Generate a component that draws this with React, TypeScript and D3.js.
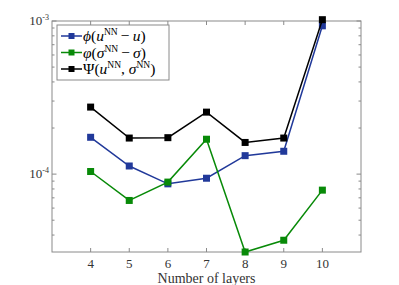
import * as d3 from "d3";

const layers = [4, 5, 6, 7, 8, 9, 10];
const phiErr = [1.74e-4, 1.13e-4, 8.64e-5, 9.4e-5, 1.32e-4, 1.41e-4, 9.3e-4];
const varphiErr = [1.04e-4, 6.73e-5, 8.87e-5, 1.69e-4, 3.1e-5, 3.7e-5, 7.86e-5];
const psiErr = [2.74e-4, 1.72e-4, 1.73e-4, 2.54e-4, 1.61e-4, 1.72e-4, 1.02e-3];

const xTicks = [4, 5, 6, 7, 8, 9, 10];

const series = [
  { key: "phi", values: phiErr, color: "#21399a" },
  { key: "varphi", values: varphiErr, color: "#088a08" },
  { key: "psi", values: psiErr, color: "#000000" },
];

const width = 399;
const height = 285;
const m = { left: 52, right: 38, top: 21, bottom: 33 };
const axisColor = "#8a8a8a";
const fontStyle = { fontFamily: "Liberation Serif, DejaVu Serif, serif" };

function Legend() {
  const sup = (s: string) => (
    <tspan dy={-6} fontSize={9.5}>
      {s}
    </tspan>
  );
  const rows: { color: string; label: JSX.Element }[] = [
    {
      color: series[0].color,
      label: (
        <>
          <tspan fontStyle="italic">ϕ</tspan>(<tspan fontStyle="italic">u</tspan>
          {sup("NN")}
          <tspan dy={6}>{"\u2009−\u2009"}</tspan>
          <tspan fontStyle="italic">u</tspan>)
        </>
      ),
    },
    {
      color: series[1].color,
      label: (
        <>
          <tspan fontStyle="italic">φ</tspan>(<tspan fontStyle="italic">σ</tspan>
          {sup("NN")}
          <tspan dy={6}>{"\u2009−\u2009"}</tspan>
          <tspan fontStyle="italic">σ</tspan>)
        </>
      ),
    },
    {
      color: series[2].color,
      label: (
        <>
          Ψ(<tspan fontStyle="italic">u</tspan>
          {sup("NN")}
          <tspan dy={6}>{", "}</tspan>
          <tspan fontStyle="italic">σ</tspan>
          {sup("NN")}
          <tspan dy={6}>)</tspan>
        </>
      ),
    },
  ];
  return (
    <g transform="translate(57,25)">
      <rect width={112} height={55} fill="#fff" stroke={axisColor} strokeWidth={1} />
      {rows.map((r, i) => {
        const y = 11 + i * 16.5;
        return (
          <g key={i}>
            <line x1={4} x2={25} y1={y} y2={y} stroke={r.color} strokeWidth={1.5} />
            <rect x={11.5} y={y - 3} width={6} height={6} fill={r.color} />
            <text x={26} y={y + 5} fontSize={15.5} style={fontStyle} fill="#000">
              {r.label}
            </text>
          </g>
        );
      })}
    </g>
  );
}

export default function App() {
  const x = d3.scaleLinear().domain([3, 11]).range([m.left, width - m.right]);
  const y = d3.scaleLog().domain([3.1e-5, 1e-3]).range([height - m.bottom, m.top]);
  const [y0, y1] = y.range();
  const [x0, x1] = x.range();

  const minor: number[] = [];
  for (const dec of [1e-5, 1e-4]) {
    for (let k = 2; k <= 9; k++) {
      const v = k * dec;
      if (v >= 3.1e-5 && v < 1e-3) minor.push(v);
    }
  }
  const major = [1e-4, 1e-3];

  const line = d3
    .line<number>()
    .x((_, i) => x(layers[i]))
    .y((v) => y(v));

  return (
    <svg width={width} height={height} style={{ position: "absolute", left: 0, top: 0 }}>
      <rect width={width} height={height} fill="#fff" />
      <rect x={x0} y={y1} width={x1 - x0} height={y0 - y1} fill="none" stroke={axisColor} strokeWidth={1} />
      {xTicks.map((t) => (
        <g key={t}>
          <line x1={x(t)} x2={x(t)} y1={y0} y2={y0 - 4} stroke={axisColor} />
          <line x1={x(t)} x2={x(t)} y1={y1} y2={y1 + 4} stroke={axisColor} />
          <text x={x(t)} y={y0 + 16} fontSize={13} style={fontStyle} textAnchor="middle" fill="#333">
            {t}
          </text>
        </g>
      ))}
      {minor.map((v) => (
        <g key={v}>
          <line x1={x0} x2={x0 + 2.5} y1={y(v)} y2={y(v)} stroke={axisColor} />
          <line x1={x1} x2={x1 - 2.5} y1={y(v)} y2={y(v)} stroke={axisColor} />
        </g>
      ))}
      {major.map((v, i) => (
        <g key={v}>
          <line x1={x0} x2={x0 + 4.5} y1={y(v)} y2={y(v)} stroke={axisColor} />
          <line x1={x1} x2={x1 - 4.5} y1={y(v)} y2={y(v)} stroke={axisColor} />
          <text x={x0 - 3} y={y(v) + 4} fontSize={13} style={fontStyle} textAnchor="end" fill="#333">
            10<tspan dy={-5} fontSize={8}>{i === 0 ? "-4" : "-3"}</tspan>
          </text>
        </g>
      ))}
      {series.map((s) => (
        <g key={s.key}>
          <path d={line(s.values) ?? ""} fill="none" stroke={s.color} strokeWidth={1.5} />
          {s.values.map((v, i) => (
            <rect key={i} x={x(layers[i]) - 3.5} y={y(v) - 3.5} width={7} height={7} fill={s.color} />
          ))}
        </g>
      ))}
      <Legend />
      <text x={(x0 + x1) / 2} y={y0 + 31} fontSize={14} style={fontStyle} textAnchor="middle" fill="#333">
        Number of layers
      </text>
    </svg>
  );
}
